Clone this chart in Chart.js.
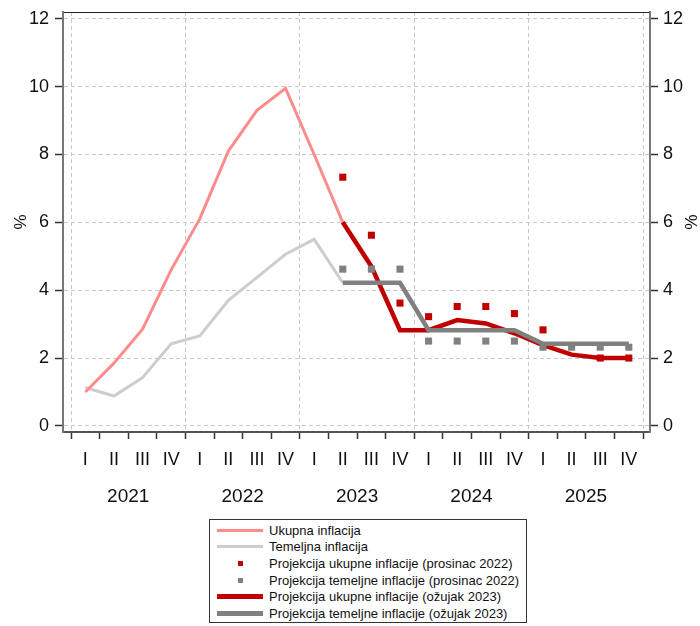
<!DOCTYPE html>
<html lang="hr">
<head>
<meta charset="utf-8">
<title>Inflacija i projekcije</title>
<script src="https://cdn.jsdelivr.net/npm/chart.js@4.4.1/dist/chart.umd.min.js"></script>
<style>
  body { margin: 0; background: #fff; font-family: 'Liberation Sans', Arial, sans-serif; }
  #okvir { position: relative; width: 700px; height: 626px; }
  #platno { position: absolute; left: 0; top: 0; width: 700px; height: 512px; }
  #legenda {
    position: absolute; left: 209px; top: 519px; width: 318px; height: 104px;
    border: 1px solid #333; box-sizing: border-box; padding-top: 2px;
    font-size: 13px; color: #111;
  }
  .red { height: 16.6px; display: flex; align-items: center; white-space: nowrap; }
  .uzorak { width: 46px; margin: 0 6px 0 7px; display: flex; align-items: center; justify-content: center; }
</style>
</head>
<body>
<div id="okvir">
  <div id="platno"><canvas id="grafikon"></canvas></div>
  <div id="legenda"></div>
</div>
<script>
// kvartali i godine
const godine = ['2021', '2022', '2023', '2024', '2025'];
const kvartali = ['I', 'II', 'III', 'IV'];
const yOznake = [0, 2, 4, 6, 8, 10, 12];

// podaci po kvartalima, 2021 I - 2025 IV
const ukupna = [1.0, 1.85, 2.85, 4.6, 6.1, 8.1, 9.3, 9.95, 8.0, 6.0,
  null, null, null, null, null, null, null, null, null, null];
const temeljna = [1.13, 0.88, 1.42, 2.42, 2.65, 3.7, 4.38, 5.06, 5.5, 4.22,
  null, null, null, null, null, null, null, null, null, null];
const projUkupneProsinac = [null, null, null, null, null, null, null, null, null,
  7.33, 5.62, 3.62, 3.22, 3.52, 3.52, 3.31, 2.83, null, 2.0, 2.0];
const projTemeljneProsinac = [null, null, null, null, null, null, null, null, null,
  4.62, 4.62, 4.62, 2.5, 2.5, 2.5, 2.5, 2.32, 2.32, 2.32, 2.32];
const projUkupneOzujak = [null, null, null, null, null, null, null, null, null,
  6.0, 4.7, 2.82, 2.82, 3.12, 3.02, 2.73, 2.38, 2.1, 2.0, 2.0];
const projTemeljneOzujak = [null, null, null, null, null, null, null, null, null,
  4.22, 4.22, 4.22, 2.82, 2.82, 2.82, 2.82, 2.42, 2.42, 2.42, 2.42];

const font = "'Liberation Sans', Arial, sans-serif";
const xMin = -0.78, xMax = 19.74;

function tocke(niz) {
  return niz.map((v, i) => ({ x: i, y: v }));
}

function linija(naziv, niz, boja, debljina, red) {
  return {
    label: naziv, data: tocke(niz), borderColor: boja, backgroundColor: boja,
    borderWidth: debljina, pointRadius: 0, tension: 0, order: red
  };
}

function kvadrati(naziv, niz, boja) {
  return {
    label: naziv, data: tocke(niz), showLine: false, pointStyle: 'rect',
    pointRadius: 5, pointBorderWidth: 0, pointBackgroundColor: boja,
    borderColor: boja, backgroundColor: boja, order: 0
  };
}

const datasets = [
  linija('Ukupna inflacija', ukupna, '#ff8c8c', 3, 4),
  linija('Temeljna inflacija', temeljna, '#cdcdcd', 3, 5),
  kvadrati('Projekcija ukupne inflacije (prosinac 2022)', projUkupneProsinac, '#c00000'),
  kvadrati('Projekcija temeljne inflacije (prosinac 2022)', projTemeljneProsinac, '#808080'),
  linija('Projekcija ukupne inflacije (ožujak 2023)', projUkupneOzujak, '#c00000', 4.5, 2),
  linija('Projekcija temeljne inflacije (ožujak 2023)', projTemeljneOzujak, '#808080', 4.5, 1)
];

const sivaMreza = '#c8c8c8';
const prozirno = 'rgba(0,0,0,0)';

// y osi: fiksna sirina, bez dodatnog razmaka iznad i ispod
function yFit(sirina) {
  return s => {
    s.width = sirina;
    s.paddingTop = 0;
    s.paddingBottom = 0;
  };
}

const chart = new Chart(document.getElementById('grafikon'), {
  type: 'line',
  data: { datasets: datasets },
  options: {
    responsive: true,
    maintainAspectRatio: false,
    animation: false,
    layout: { padding: { top: 12 } },
    plugins: { legend: { display: false }, tooltip: { enabled: false } },
    scales: {
      x: {
        type: 'linear', position: 'bottom', min: xMin, max: xMax,
        afterBuildTicks: s => {
          const t = [];
          for (let v = -0.5; v <= 19.5; v += 0.5) t.push({ value: v });
          s.ticks = t;
        },
        afterFit: s => { s.height = 43; },
        grid: {
          color: c => (c.tick && (c.tick.value + 0.5) % 4 === 0) ? sivaMreza : prozirno,
          tickColor: c => (c.tick && !Number.isInteger(c.tick.value)) ? '#333' : prozirno,
          tickLength: 7, tickWidth: 1.5
        },
        border: { color: '#555', width: 2, dash: [4, 3] },
        ticks: {
          autoSkip: false, maxRotation: 0, padding: 10, color: '#111',
          font: { family: font, size: 18 },
          callback: v => Number.isInteger(v) ? kvartali[v % 4] : ''
        }
      },
      xGodina: {
        type: 'linear', position: 'bottom', weight: 1, min: xMin, max: xMax,
        afterBuildTicks: s => { s.ticks = godine.map((g, i) => ({ value: i * 4 + 1.5 })); },
        afterFit: s => { s.height = 37; },
        grid: { display: false },
        border: { display: false },
        ticks: {
          autoSkip: false, maxRotation: 0, padding: 2, color: '#111',
          font: { family: font, size: 19 },
          callback: v => godine[Math.round((v - 1.5) / 4)]
        }
      },
      xGore: {
        type: 'linear', position: 'top', min: xMin, max: xMax,
        afterFit: s => { s.height = 0; },
        grid: { display: false },
        border: { color: '#222', width: 1 },
        ticks: { display: false }
      },
      y: {
        position: 'left', min: -0.18, max: 12.2,
        afterBuildTicks: s => { s.ticks = yOznake.map(v => ({ value: v })); },
        afterFit: yFit(63),
        grid: { color: sivaMreza, tickColor: '#333', tickLength: 8, tickWidth: 1.5 },
        border: { color: '#777', width: 2, dash: [4, 3] },
        ticks: { padding: 6, color: '#111', font: { family: font, size: 18 } },
        title: { display: true, text: '%', color: '#111', padding: { top: 11, bottom: 0 }, font: { family: font, size: 17 } }
      },
      y2: {
        position: 'right', min: -0.18, max: 12.2,
        afterBuildTicks: s => { s.ticks = yOznake.map(v => ({ value: v })); },
        afterFit: yFit(50),
        grid: { drawOnChartArea: false, tickColor: '#333', tickLength: 8, tickWidth: 1.5 },
        border: { color: '#777', width: 2 },
        ticks: { padding: 5, color: '#111', font: { family: font, size: 18 } },
        title: { display: true, text: '%', color: '#111', padding: 0, font: { family: font, size: 17 } }
      }
    }
  }
});

// legenda ispod grafikona
const legenda = document.getElementById('legenda');
chart.data.datasets.forEach(ds => {
  const red = document.createElement('div');
  red.className = 'red';
  const uzorak = document.createElement('span');
  uzorak.className = 'uzorak';
  const znak = document.createElement('span');
  if (ds.showLine === false) {
    znak.style.cssText = `width:5px;height:5px;background:${ds.pointBackgroundColor}`;
  } else {
    znak.style.cssText = `width:46px;height:${Math.round(ds.borderWidth)}px;background:${ds.borderColor}`;
  }
  uzorak.appendChild(znak);
  const tekst = document.createElement('span');
  tekst.textContent = ds.label;
  red.appendChild(uzorak);
  red.appendChild(tekst);
  legenda.appendChild(red);
});
</script>
</body>
</html>
